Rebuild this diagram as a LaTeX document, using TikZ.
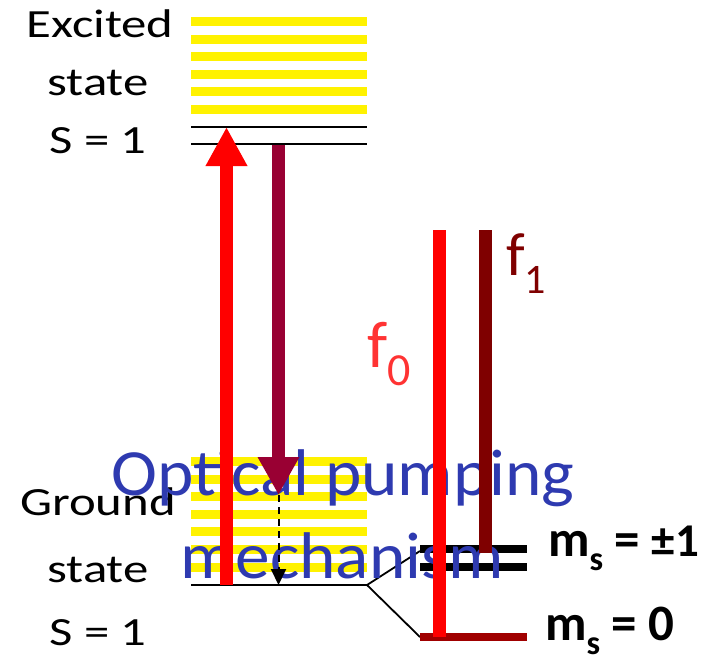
\documentclass[tikz,border=0pt]{standalone}
\usepackage{fontspec}
\setmainfont{Carlito}
\newfontfamily\widefont[FakeStretch=1.27]{Carlito}
\newfontfamily\pumpfont[FakeStretch=1.05]{Carlito}
\usetikzlibrary{arrows.meta}
\definecolor{pumpblue}{RGB}{46,58,176}
\definecolor{decaypurple}{RGB}{153,0,51}
\definecolor{fonedark}{RGB}{127,0,0}
\definecolor{mzerored}{RGB}{160,0,0}
\definecolor{fzerotxt}{RGB}{255,51,51}
\newcommand{\lowsub}[3]{\raisebox{-#2pt}{\fontsize{#1}{#1}\selectfont #3}}
\newcommand{\smallval}[1]{{\fontsize{47}{47}\selectfont #1}}
\tikzset{
  stripe/.style={fill=yellow},
  level/.style={line width=2.5pt},
  thinlink/.style={line width=1.8pt},
  spinbar/.style={line width=8pt},
  beam/.style={line width=13pt},
  statelbl/.style={anchor=base, inner sep=0pt, font=\widefont\fontsize{40}{40}\selectfont},
  mslbl/.style={anchor=base west, inner sep=0pt, font=\fontsize{51}{51}\selectfont\bfseries},
  pumptxt/.style={anchor=base, inner sep=0pt, text=pumpblue, font=\pumpfont\fontsize{66}{66}\selectfont},
}
\begin{document}
\begin{tikzpicture}[x=1pt,y=-1pt]
  \useasboundingbox (0,0) rectangle (726,657);
  % yellow bands
  \foreach \k in {0,...,5}
    \fill[stripe] (191,{17+17.6*\k}) rectangle (367,{26+17.6*\k});
  \foreach \k in {0,...,6}
    \fill[stripe] (191,{457+17.6*\k}) rectangle (367,{466+17.6*\k});
  % levels
  \draw[level] (191,127) -- (367,127);
  \draw[level] (191,144) -- (367,144);
  \coordinate (gnd) at (367,585);
  \coordinate (pm) at (420,551);
  \coordinate (zero) at (420,637);
  \draw[level] (191,585) -- (gnd);
  \draw[thinlink] (gnd) -- (pm);
  \draw[thinlink] (gnd) -- (zero);
  \draw[spinbar] (420,549) -- (527,549);
  \draw[spinbar] (420,567) -- (527,567);
  \draw[spinbar, mzerored] (zero) -- (527,637);
  % labels
  \node[statelbl] (exca) at (100,37) {Excited};
  \node[statelbl] (excb) at (98,95) {state};
  \node[statelbl] (excc) at (98,153) {S = 1};
  \node[statelbl] (gnda) at (98,515) {Ground};
  \node[statelbl] (gndb) at (98,582) {state};
  \node[statelbl] (gndc) at (98,645) {S = 1};
  \node[mslbl] (msone) at (548,556) {m\lowsub{34}{14}{s} = \smallval{±1}};
  \node[mslbl] (mszero) at (545,640) {m\lowsub{34}{14}{s} = 0};
  \node[pumptxt] (pumpa) at (343,495) {Optical pumping};
  \node[pumptxt] (pumpb) at (342,578) {mechanism};
  % transitions
  \draw[beam, red, -{Triangle[length=39pt,width=39pt]}] (226.5,585) -- (226.5,127);
  \draw[beam, decaypurple, -{Triangle[length=38pt,width=39pt]}] (278.5,145) -- (278.5,495);
  \draw[line width=2pt, dash pattern=on 7pt off 5pt, -{Triangle[length=16pt,width=15pt]}] (278.5,495) -- (278.5,585);
  \draw[beam, red] (439,230) -- (439,637);
  \draw[beam, fonedark] (485,230) -- (485,553);
  \node[anchor=base west, inner sep=0pt, text=fzerotxt, font=\fontsize{66}{66}\selectfont] (fzero) at (367,367) {f\lowsub{46}{18}{0}};
  \node[anchor=base west, inner sep=0pt, text=fonedark, font=\fontsize{61}{61}\selectfont] (fone) at (506,275) {f\lowsub{42}{18}{1}};
\end{tikzpicture}
\end{document}
